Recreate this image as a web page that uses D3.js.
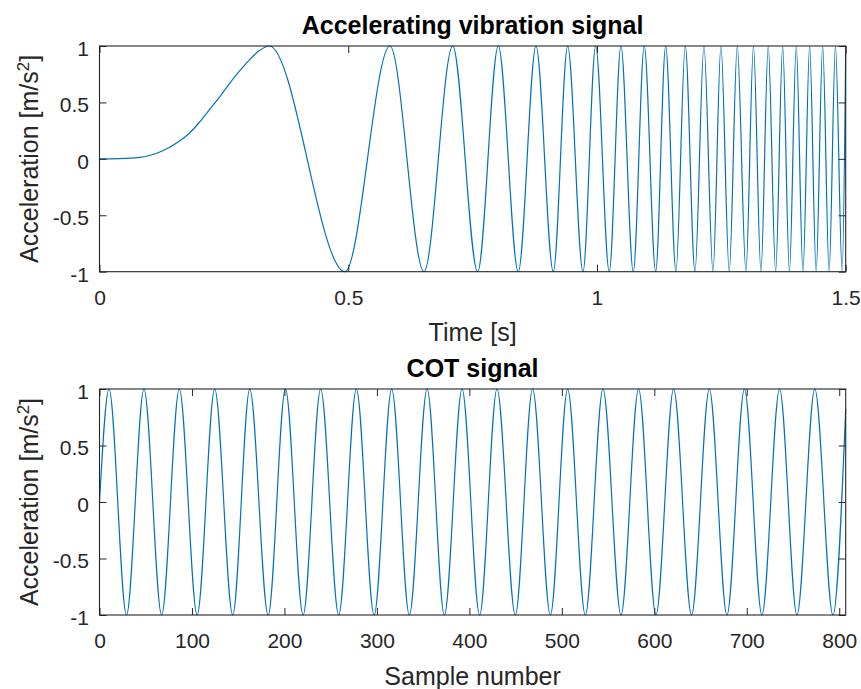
<!DOCTYPE html>
<html>
<head>
<meta charset="utf-8">
<script src="https://cdn.jsdelivr.net/npm/d3@7"></script>
<style>
  html, body { margin: 0; padding: 0; background: #ffffff; }
  svg { display: block; }
</style>
</head>
<body>
<div id="chart"></div>
<script>
// ---------------- DATA ----------------
// Top panel: accelerating vibration signal
const topTitle = "Accelerating vibration signal";
const topXLabel = "Time [s]";
const topXTicks = [0, 0.5, 1, 1.5];
const topXDomain = [0, 1.5];
// slow initial rise (time, value)
const topRiseT = [0, 0.04, 0.08, 0.10, 0.12, 0.14, 0.16, 0.18, 0.20, 0.22, 0.24, 0.26, 0.28, 0.30, 0.32];
const topRiseV = [0, 0.002, 0.013, 0.03, 0.058, 0.10, 0.155, 0.225, 0.32, 0.43, 0.54, 0.66, 0.77, 0.87, 0.955];
// times of the alternating extrema (first one is a peak at +1)
const topExtremaT = [0.3413, 0.4935, 0.5839, 0.6523, 0.7100, 0.7602, 0.8016, 0.8418,
  0.8774, 0.9122, 0.9411, 0.9719, 0.9974, 1.0247, 1.0482, 1.0730, 1.0951, 1.1180,
  1.1381, 1.1588, 1.1775, 1.1970, 1.2151, 1.2332, 1.2492, 1.2659, 1.2820, 1.2995,
  1.3146, 1.3296, 1.3443, 1.3592, 1.3733, 1.3869, 1.4006, 1.4141, 1.4275, 1.4406,
  1.4537, 1.4667, 1.4794, 1.4929];
const topExtremaV = [1, -1, 1, -1, 1, -1, 1, -1, 1, -1, 1, -1, 1, -1, 1, -1, 1, -1,
  1, -1, 1, -1, 1, -1, 1, -1, 1, -1, 1, -1, 1, -1, 1, -1, 1, -1, 1, -1, 1, -1, 1, -1];
const topEndT = [1.5];
const topEndV = [0.95];

// Bottom panel: COT signal
const botTitle = "COT signal";
const botXLabel = "Sample number";
const botXTicks = [0, 100, 200, 300, 400, 500, 600, 700, 800];
const botXDomain = [0, 807];
const botStartS = [0];
const botStartV = [0];
const botExtremaS = [10.3, 29.2, 48.1, 67.2, 86.3, 105.6, 124.6, 144.1, 162.5, 182.4,
  201.1, 220.2, 239.2, 258.7, 277.8, 297.0, 316.0, 335.1, 354.3, 373.0, 392.1, 411.1,
  429.9, 449.7, 468.4, 487.6, 506.3, 525.4, 544.5, 564.0, 583.0, 601.8, 620.9, 640.3,
  659.5, 678.6, 697.5, 716.4, 735.5, 754.3, 773.6, 793.2];
const botExtremaV = [1, -1, 1, -1, 1, -1, 1, -1, 1, -1, 1, -1, 1, -1, 1, -1, 1, -1,
  1, -1, 1, -1, 1, -1, 1, -1, 1, -1, 1, -1, 1, -1, 1, -1, 1, -1, 1, -1, 1, -1, 1, -1];
const botEndS = [807];
const botEndV = [0.82];

const yLabel = "Acceleration [m/s";
const yLabelSup = "2";
const yTicks = [-1, -0.5, 0, 0.5, 1];
const yDomain = [-1, 1];

// ---------------- DRAWING ----------------
const W = 861, H = 689;
const axisColor = "#262626";
const lineColor = "#0072BD";
const fontFamily = "'Liberation Sans', Arial, Helvetica, sans-serif";

const svg = d3.select("#chart").append("svg")
  .attr("width", W).attr("height", H)
  .attr("viewBox", `0 0 ${W} ${H}`);
svg.append("rect").attr("width", W).attr("height", H).attr("fill", "#fff");

function zipPts(xs, vs) { return xs.map((x, i) => [x, vs[i]]); }

const panels = [
  {
    title: topTitle, xLabel: topXLabel, xTicks: topXTicks, xDomain: topXDomain,
    pts: [].concat(zipPts(topRiseT, topRiseV), zipPts(topExtremaT, topExtremaV), zipPts(topEndT, topEndV)),
    left: 99.5, right: 845.7, top: 46, bottom: 271.7
  },
  {
    title: botTitle, xLabel: botXLabel, xTicks: botXTicks, xDomain: botXDomain,
    pts: [].concat(zipPts(botStartS, botStartV), zipPts(botExtremaS, botExtremaV), zipPts(botEndS, botEndV)),
    left: 99.5, right: 845.7, top: 389, bottom: 615
  }
];

panels.forEach(p => {
  const x = d3.scaleLinear().domain(p.xDomain).range([p.left, p.right]);
  const y = d3.scaleLinear().domain(yDomain).range([p.bottom, p.top]);
  const g = svg.append("g");

  // signal
  const line = d3.line().x(d => x(d[0])).y(d => y(d[1])).curve(d3.curveMonotoneX);
  g.append("path").datum(p.pts)
    .attr("d", line)
    .attr("fill", "none")
    .attr("stroke", lineColor)
    .attr("stroke-width", 1.2)
    .attr("stroke-linejoin", "round");

  const fmt = d => String(d);
  const tickLen = 7;

  // bottom axis
  const ax = g.append("g").attr("transform", `translate(0,${p.bottom})`)
    .call(d3.axisBottom(x).tickValues(p.xTicks).tickFormat(fmt)
      .tickSizeInner(-tickLen).tickSizeOuter(0).tickPadding(18));
  // top mirror
  const axT = g.append("g").attr("transform", `translate(0,${p.top})`)
    .call(d3.axisTop(x).tickValues(p.xTicks).tickFormat("")
      .tickSizeInner(-tickLen).tickSizeOuter(0));
  // left axis
  const ay = g.append("g").attr("transform", `translate(${p.left},0)`)
    .call(d3.axisLeft(y).tickValues(yTicks).tickFormat(fmt)
      .tickSizeInner(-tickLen).tickSizeOuter(0).tickPadding(10.5));
  // right mirror
  const ayR = g.append("g").attr("transform", `translate(${p.right},0)`)
    .call(d3.axisRight(y).tickValues(yTicks).tickFormat("")
      .tickSizeInner(-tickLen).tickSizeOuter(0));

  [ax, axT, ay, ayR].forEach(a => {
    a.select(".domain").remove();
    a.selectAll(".tick line").attr("stroke", axisColor).attr("stroke-width", 1);
    a.selectAll(".tick text")
      .attr("fill", axisColor)
      .style("font-family", fontFamily)
      .style("font-size", "21px");
  });
  ay.selectAll(".tick text").attr("dy", "0.45em");

  // box
  g.append("rect")
    .attr("x", p.left).attr("y", p.top)
    .attr("width", p.right - p.left).attr("height", p.bottom - p.top)
    .attr("fill", "none").attr("stroke", axisColor).attr("stroke-width", 1.1);

  const cx = (p.left + p.right) / 2;
  // title
  g.append("text")
    .attr("x", cx).attr("y", p.top - 12)
    .attr("text-anchor", "middle")
    .attr("fill", "#000")
    .style("font-family", fontFamily)
    .style("font-weight", "bold")
    .style("font-size", "25px")
    .text(p.title);

  // x label
  g.append("text")
    .attr("x", cx).attr("y", p.bottom + 69.5)
    .attr("text-anchor", "middle")
    .attr("fill", axisColor)
    .style("font-family", fontFamily)
    .style("font-size", "25px")
    .text(p.xLabel);

  // y label
  const cy = (p.top + p.bottom) / 2;
  const yl = g.append("text")
    .attr("transform", `translate(37.5,${cy}) rotate(-90)`)
    .attr("text-anchor", "middle")
    .attr("fill", axisColor)
    .style("font-family", fontFamily)
    .style("font-size", "25px");
  yl.append("tspan").text(yLabel);
  yl.append("tspan").attr("dy", "-9").style("font-size", "17px").text(yLabelSup);
  yl.append("tspan").attr("dy", "9").text("]");
});
</script>
</body>
</html>
